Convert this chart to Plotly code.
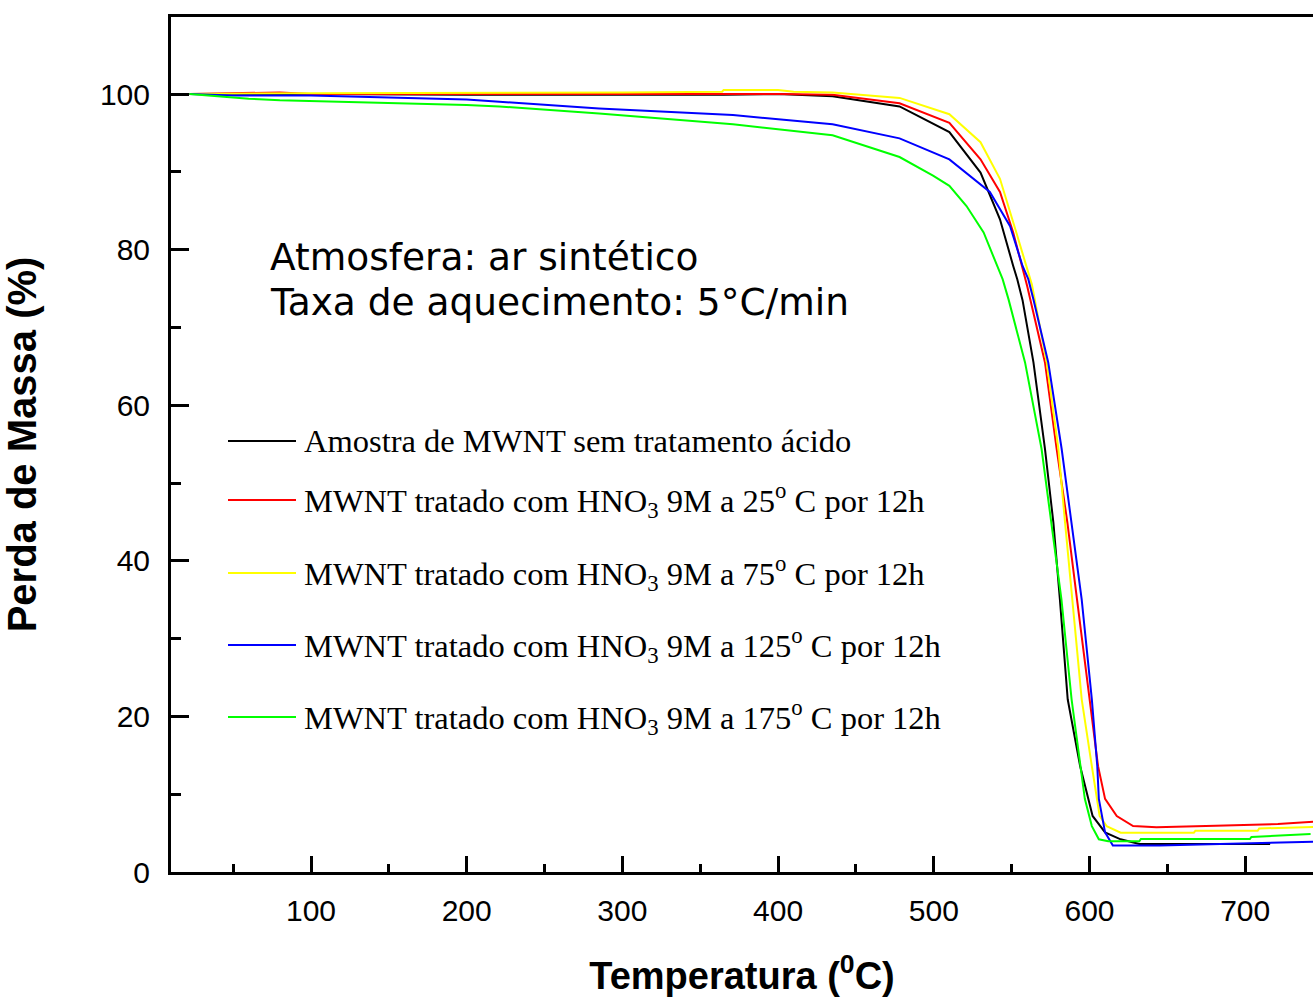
import plotly.graph_objects as go

# ---- data ----
black_T = [22, 100, 200, 300, 365, 400, 435, 478, 510, 530, 542.5, 551, 553.6, 557, 564, 571.4, 576.8, 581, 586, 594, 602, 610, 620, 632, 716]
black_m = [100, 100.0, 99.9, 99.9, 99.9, 100.0, 99.7, 98.4, 95.1, 89.9, 83.9, 77.9, 76.2, 73.5, 65.5, 54.4, 44.9, 35, 22.2, 13.6, 7.2, 5.1, 4.2, 3.6, 3.6]

red_T = [22, 80, 100, 300, 400, 435, 478, 510, 530, 542.5, 551, 560, 571.4, 578.9, 585.8, 592, 600, 605.5, 610, 617.5, 628, 643, 681, 721, 745]
red_m = [100, 100.2, 100.0, 100.0, 100.0, 99.9, 98.8, 96.3, 91.6, 87.4, 82.2, 75.3, 65.5, 54.4, 44.9, 35, 22.2, 13.6, 9.4, 7.2, 5.9, 5.75, 5.95, 6.17, 6.47]

yellow_T = [22, 100, 300, 364, 365, 400, 410, 435, 478, 510, 530, 542.5, 553, 563, 572.5, 580, 584.3, 589, 595, 601.5, 605, 606.5, 611, 620, 667, 668, 708, 709, 745]
yellow_m = [100, 100.1, 100.2, 100.3, 100.5, 100.5, 100.3, 100.2, 99.5, 97.4, 93.8, 89.1, 82.2, 75.5, 65.5, 54.4, 44.9, 35, 22.2, 13.6, 9.4, 7.2, 5.9, 5.05, 5.05, 5.3, 5.3, 5.6, 5.8]

blue_T = [22, 50, 100, 200, 221, 285, 371, 435, 478, 510, 536, 549, 557, 560.7, 564, 573.5, 582.1, 588.5, 595, 601.5, 605, 606, 610, 615, 645, 684, 716, 745]
blue_m = [100, 99.8, 99.8, 99.3, 99.0, 98.15, 97.3, 96.1, 94.3, 91.6, 87.4, 83.0, 77.9, 76.2, 73.6, 65.5, 54.4, 44.9, 35, 22.2, 13.6, 9.4, 5.1, 3.4, 3.4, 3.6, 3.8, 3.9]

green_T = [22, 40, 60, 80, 110, 200, 221, 285, 371, 435, 478, 499.5, 510, 521, 532, 542.5, 544.2, 548, 558.6, 569.2, 575.7, 582, 588.5, 594, 597, 601.5, 606, 612, 632, 633, 703, 704, 742]
green_m = [100, 99.7, 99.4, 99.2, 99.06, 98.6, 98.4, 97.5, 96.1, 94.7, 91.9, 89.5, 88.2, 85.6, 82.2, 77.1, 76.2, 73.6, 65.5, 54.4, 44.9, 35, 22.2, 13.6, 9.4, 5.9, 4.2, 3.95, 3.95, 4.24, 4.24, 4.5, 4.9]

series_names = [
    "Amostra de MWNT sem tratamento ácido",
    "MWNT tratado com HNO<sub>3</sub> 9M a 25<sup>o</sup> C por 12h",
    "MWNT tratado com HNO<sub>3</sub> 9M a 75<sup>o</sup> C por 12h",
    "MWNT tratado com HNO<sub>3</sub> 9M a 125<sup>o</sup> C por 12h",
    "MWNT tratado com HNO<sub>3</sub> 9M a 175<sup>o</sup> C por 12h",
]
series_colors = ["#000000", "#FF0000", "#FFFF00", "#0000FF", "#00FF00"]
series_T = [black_T, red_T, yellow_T, blue_T, green_T]
series_m = [black_m, red_m, yellow_m, blue_m, green_m]

x_ticks = [100, 200, 300, 400, 500, 600, 700]
y_ticks = [0, 20, 40, 60, 80, 100]

# ---- layout geometry ----
W, H = 1313, 997
ML, MR, MT, MB = 171, 0, 17, 125
PW = W - ML - MR
PH = H - MT - MB

def px_to_paper(px, py):
    return (px - ML) / PW, (H - MB - py) / PH

fig = go.Figure()
for name, col, T, m in zip(series_names, series_colors, series_T, series_m):
    fig.add_trace(go.Scatter(x=T, y=m, mode="lines", name=name,
                             line=dict(color=col, width=2), showlegend=False))

# manual legend
legend_rows_y = [441, 500, 573, 645, 717]
for name, col, ry in zip(series_names, series_colors, legend_rows_y):
    x0, y0 = px_to_paper(228, ry)
    x1, _ = px_to_paper(296, ry)
    fig.add_shape(type="line", xref="paper", yref="paper", x0=x0, x1=x1, y0=y0, y1=y0,
                  line=dict(color=col, width=2))
    tx, ty = px_to_paper(302, ry)
    fig.add_annotation(xref="paper", yref="paper", x=tx, y=ty, xanchor="left", yanchor="middle",
                       text=name, showarrow=False,
                       font=dict(family="Liberation Serif", size=32.5, color="black"))

for txt, py in [("Atmosfera: ar sintético", 257), ("Taxa de aquecimento: 5°C/min", 302)]:
    tx, ty = px_to_paper(268, py)
    fig.add_annotation(xref="paper", yref="paper", x=tx, y=ty, xanchor="left", yanchor="middle",
                       text=txt, showarrow=False,
                       font=dict(family="DejaVu Sans", size=37.5, color="black"))

xmin = 100 + (ML - 311) / 1.557
xmax = 100 + (W - MR - 311) / 1.557
ymax = (H - MB - MT) / 7.78

fig.update_layout(
    width=W, height=H,
    margin=dict(l=ML, r=MR, t=MT, b=MB, pad=0),
    paper_bgcolor="white", plot_bgcolor="white",
    font=dict(family="Liberation Sans", color="black"),
    xaxis=dict(range=[xmin, xmax], tickvals=x_ticks, showgrid=False, zeroline=False,
               showline=True, linecolor="black", linewidth=3, mirror=True,
               ticks="inside", ticklen=16, tickwidth=3, tickcolor="black",
               ticklabelstandoff=10,
               tickfont=dict(family="Liberation Sans", size=30, color="black"),
               minor=dict(ticks="inside", ticklen=8, tickwidth=3, tickcolor="black", dtick=50, tick0=0, showgrid=False),
               title=dict(text="<b>Temperatura (<sup>0</sup>C)</b>",
                          font=dict(family="Liberation Sans", size=38, color="black"), standoff=42)),
    yaxis=dict(range=[0, ymax], tickvals=y_ticks, showgrid=False, zeroline=False,
               showline=True, linecolor="black", linewidth=3, mirror=False,
               ticks="inside", ticklen=18, tickwidth=3, tickcolor="black",
               ticklabelstandoff=12,
               tickfont=dict(family="Liberation Sans", size=30, color="black"),
               minor=dict(ticks="inside", ticklen=10, tickwidth=3, tickcolor="black", dtick=10, tick0=0, showgrid=False),
               title=dict(text="<b>Perda de Massa (%)</b>",
                          font=dict(family="Liberation Sans", size=40, color="black"), standoff=60)),
)

fig.write_html("out.html")
